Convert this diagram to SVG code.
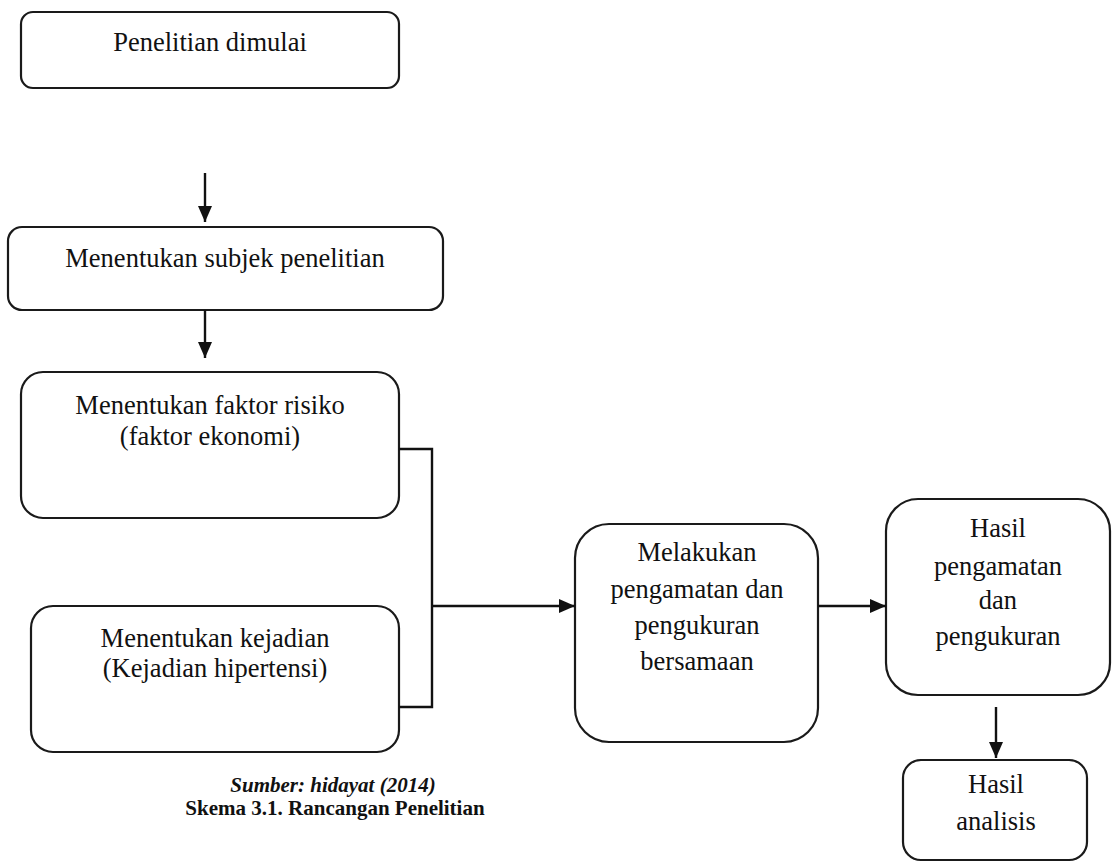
<svg xmlns="http://www.w3.org/2000/svg" width="1112" height="864" viewBox="0 0 1112 864">
<style>
.box{fill:#fff;stroke:#1a1a1a;stroke-width:2.2}
.t{font-family:'Liberation Serif',serif;font-size:26.5px;fill:#111;text-anchor:middle}
.ln{fill:none;stroke:#111;stroke-width:2.4}
.cap{font-family:'Liberation Serif',serif;font-size:21px;font-weight:bold;fill:#111;text-anchor:middle}
</style>
<defs>
<marker id="ah" viewBox="0 0 16 14" refX="16" refY="7" markerWidth="16" markerHeight="14" markerUnits="userSpaceOnUse" orient="auto">
<path d="M0,0 L16,7 L0,14 Z" fill="#111"/>
</marker>
</defs>
<rect width="1112" height="864" fill="#fff"/>
<g id="n1"><rect class="box" x="21" y="12" width="378" height="76" rx="12"/><text class="t" x="210" y="51">Penelitian dimulai</text></g>
<g id="n2"><rect class="box" x="8" y="227" width="435" height="83" rx="14"/><text class="t" x="225" y="267">Menentukan subjek penelitian</text></g>
<g id="n3"><rect class="box" x="21" y="372" width="378" height="146" rx="22"/><text class="t" x="210" y="414">Menentukan faktor risiko</text><text class="t" x="210" y="445">(faktor ekonomi)</text></g>
<g id="n4"><rect class="box" x="31" y="606" width="368" height="146" rx="22"/><text class="t" x="215" y="647">Menentukan kejadian</text><text class="t" x="215" y="677">(Kejadian hipertensi)</text></g>
<g id="n5"><rect class="box" x="575" y="524" width="243" height="218" rx="34"/><text class="t" x="697" y="561">Melakukan</text><text class="t" x="697" y="598">pengamatan dan</text><text class="t" x="697" y="634">pengukuran</text><text class="t" x="697" y="670">bersamaan</text></g>
<g id="n6"><rect class="box" x="886" y="499" width="224" height="196" rx="32"/><text class="t" x="998" y="537">Hasil</text><text class="t" x="998" y="575">pengamatan</text><text class="t" x="998" y="609">dan</text><text class="t" x="998" y="645">pengukuran</text></g>
<g id="n7"><rect class="box" x="903" y="760" width="184" height="100" rx="18"/><text class="t" x="996" y="793">Hasil</text><text class="t" x="996" y="830">analisis</text></g>
<g id="connectors">
<line class="ln" x1="205" y1="173" x2="205" y2="222" marker-end="url(#ah)"/>
<line class="ln" x1="205" y1="310" x2="205" y2="358" marker-end="url(#ah)"/>
<polyline class="ln" points="399,449 432,449 432,707 399,707"/>
<line class="ln" x1="432" y1="606" x2="575" y2="606" marker-end="url(#ah)"/>
<line class="ln" x1="818" y1="606" x2="886" y2="606" marker-end="url(#ah)"/>
<line class="ln" x1="996" y1="707" x2="996" y2="758" marker-end="url(#ah)"/>
</g>
<g id="caption">
<text class="cap" x="333" y="792" font-style="italic">Sumber: hidayat  (2014)</text>
<text class="cap" x="335" y="815">Skema 3.1. Rancangan Penelitian</text>
</g>
</svg>
